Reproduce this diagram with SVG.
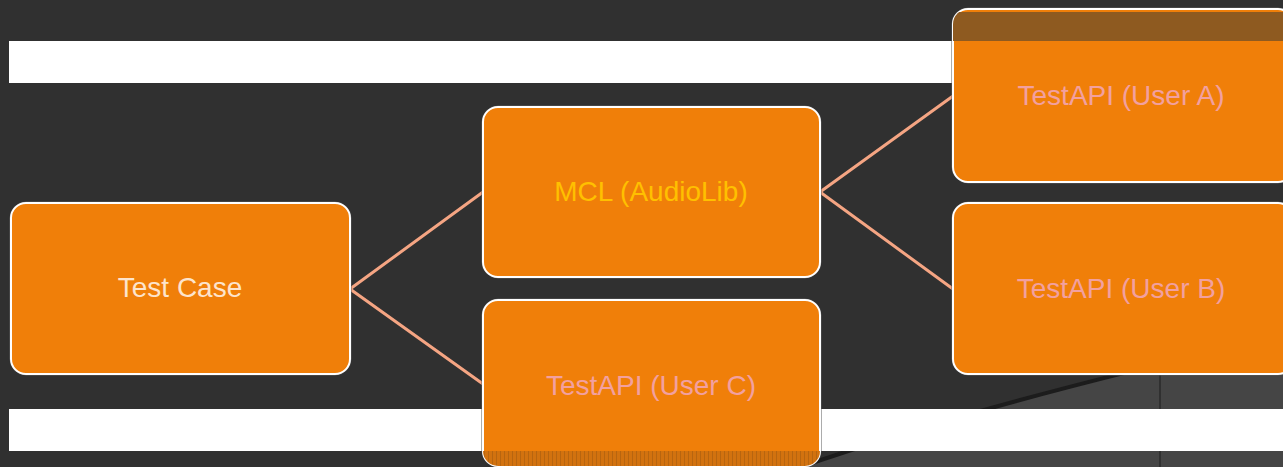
<svg xmlns="http://www.w3.org/2000/svg" width="1283" height="467" viewBox="0 0 1283 467">
  <style>
    .node { fill: #f07f09; stroke: #ffffff; stroke-width: 2; }
    .outline { fill: none; stroke: #5a5a5a; stroke-width: 1; }
    .label { font-family: "Liberation Sans", Arial, sans-serif; font-size: 28px; text-anchor: middle; }
    .conn { stroke: #f5a583; stroke-width: 3; fill: none; stroke-linecap: round; }
  </style>
  <defs>
    <clipPath id="clipA"><rect x="953" y="9" width="340" height="173" rx="15"/></clipPath>
    <clipPath id="clipC"><rect x="483" y="300" width="337" height="166" rx="15"/></clipPath>
    <pattern id="hatch" width="4" height="4" patternUnits="userSpaceOnUse">
      <rect width="4" height="4" fill="#d2720f"/>
      <rect width="1" height="4" fill="#b8650f"/>
    </pattern>
  </defs>

  <!-- background -->
  <rect x="0" y="0" width="1283" height="467" fill="#303030"/>
  <path d="M 800 467 C 880 440, 1000 400, 1283 335 L 1283 467 Z" fill="#454545"/>
  <path d="M 800 467 C 880 440, 1000 400, 1283 335" fill="none" stroke="#1c1c1c" stroke-width="4"/>
  <line x1="1160" y1="370" x2="1160" y2="467" stroke="#2a2a2a" stroke-width="1.5"/>
  <rect x="9" y="41" width="1274" height="42" fill="#ffffff"/>
  <rect x="9" y="409" width="1274" height="42" fill="#ffffff"/>

  <g id="connectors">
    <line class="conn" x1="350" y1="289" x2="483" y2="192"/>
    <line class="conn" x1="350" y1="289" x2="483" y2="384"/>
    <line class="conn" x1="820" y1="192" x2="953" y2="96"/>
    <line class="conn" x1="820" y1="192" x2="953" y2="289"/>
  </g>

  <g id="node-testcase">
    <rect class="outline" x="10" y="202" width="341" height="173" rx="16"/>
    <rect class="node" x="11" y="203" width="339" height="171" rx="15"/>
    <text class="label" x="180" y="297" fill="#fde4cc">Test Case</text>
  </g>

  <g id="node-mcl">
    <rect class="outline" x="482" y="106" width="339" height="172" rx="16"/>
    <rect class="node" x="483" y="107" width="337" height="170" rx="15"/>
    <text class="label" x="651" y="201" fill="#ffc000">MCL (AudioLib)</text>
  </g>

  <g id="node-userc">
    <rect class="outline" x="482" y="299" width="339" height="168" rx="16"/>
    <rect class="node" x="483" y="300" width="337" height="166" rx="15"/>
    <rect x="483" y="451" width="337" height="16" fill="url(#hatch)" clip-path="url(#clipC)"/>
    <text class="label" x="651" y="395" fill="#f2a0a0">TestAPI (User C)</text>
  </g>

  <g id="node-usera">
    <rect class="outline" x="952" y="8" width="342" height="175" rx="16"/>
    <rect class="node" x="953" y="9" width="340" height="173" rx="15"/>
    <rect x="953" y="12" width="340" height="29" fill="#8e5a20" clip-path="url(#clipA)"/>
    <text class="label" x="1121" y="105" fill="#f2a0a0">TestAPI (User A)</text>
  </g>

  <g id="node-userb">
    <rect class="outline" x="952" y="202" width="342" height="173" rx="16"/>
    <rect class="node" x="953" y="203" width="340" height="171" rx="15"/>
    <text class="label" x="1121" y="298" fill="#f2a0a0">TestAPI (User B)</text>
  </g>
</svg>
